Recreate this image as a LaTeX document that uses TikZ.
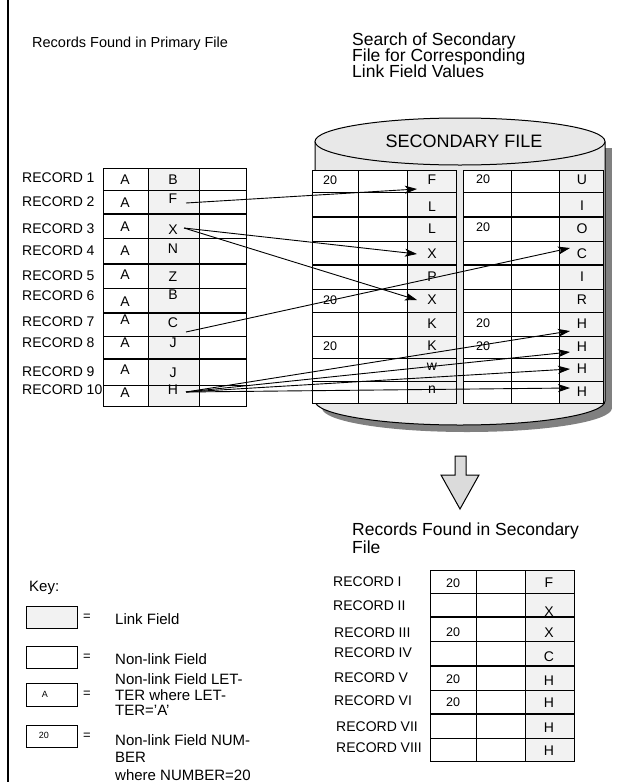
\documentclass[tikz,border=0pt]{standalone}
\usepackage{fontspec}
\setmainfont{Liberation Sans}
\usetikzlibrary{arrows.meta}
\definecolor{linkgray}{gray}{0.95}
\definecolor{cylgray}{gray}{0.91}
\definecolor{shadowgray}{gray}{0.5}
\definecolor{arrowgray}{gray}{0.86}
\begin{document}
\begin{tikzpicture}[x=1pt,y=-1pt,
  gridline/.style={draw=black,line width=1pt},
  thickline/.style={draw=black,line width=2.2pt},
  lbl/.style={anchor=west,inner sep=0pt,font=\fontsize{14}{16}\selectfont},
  txt/.style={inner sep=0pt,font=\fontsize{14}{16}\selectfont},
  num/.style={inner sep=0pt,font=\fontsize{12.5}{14}\selectfont},
  head/.style={anchor=base west,inner sep=0pt},
  keytxt/.style={anchor=base west,inner sep=0pt,font=\fontsize{15}{17}\selectfont},
  conn/.style={line width=0.9pt,-{Stealth[length=12pt,width=8pt,inset=3pt]}},
]
\useasboundingbox (0,0) rectangle (632,782);
% left border
\draw[line width=1.3pt] (8,0) -- (8,782);

% headings
\node[head,font=\fontsize{14.5}{17}\selectfont] (h1) at (32,47) {Records Found in Primary File};
\node[head,font=\fontsize{17.5}{19}\selectfont] (h2a) at (352,45) {Search of Secondary};
\node[head,font=\fontsize{17.5}{19}\selectfont] (h2b) at (352,61) {File for Corresponding};
\node[head,font=\fontsize{17.5}{19}\selectfont] (h2c) at (352,77) {Link Field Values};

% ---------- primary table ----------
\fill[linkgray] (148,168) rectangle (199,406);
\draw[gridline] (103,168) rectangle (246,406);
\foreach \x in {148,199} \draw[gridline] (\x,168) -- (\x,406);
\foreach \y in {190,238,288,336,385} \draw[gridline] (103,\y) -- (246,\y);
\foreach \y in {214,264,313,359} \draw[thickline] (103,\y) -- (246,\y);

\foreach \n/\y in {1/178,2/202,3/229,4/251,5/276,6/296,7/322,8/343,9/372,10/390}
  \node[lbl] (r\n) at (22,\y) {RECORD \n};
\foreach \n/\y in {1/180,2/203,3/227,4/251,5/275,6/302,7/320,8/343,9/370,10/393}
  \node[txt] (pa\n) at (125,\y) {A};
\node[txt] (pB1) at (173,180) {B};
\node[txt] (pF)  at (173,199) {F};
\node[txt] (pX)  at (173,230) {X};
\node[txt] (pN)  at (173,249) {N};
\node[txt] (pZ)  at (173,277) {Z};
\node[txt] (pB6) at (173,295) {B};
\node[txt] (pC)  at (173,323) {C};
\node[txt] (pJ8) at (173,343) {J};
\node[txt] (pJ9) at (173,373) {J};
\node[txt] (pH)  at (173,390) {H};

% ---------- secondary file cylinder ----------
\fill[shadowgray] (322,148) rectangle (612,408);
\fill[shadowgray] (467,408) ellipse [x radius=145,y radius=24];
\fill[cylgray] (315,141.5) rectangle (605,401);
\fill[cylgray] (460,401) ellipse [x radius=145,y radius=24];
\draw[line width=1pt] (315,141.5) -- (315,401) arc[start angle=180,end angle=0,x radius=145,y radius=24] -- (605,141.5);
\draw[line width=1pt,fill=cylgray] (460,141.5) ellipse [x radius=145,y radius=23.5];
\node[inner sep=0pt,font=\fontsize{18}{20}\selectfont] (secfile) at (464,141) {SECONDARY FILE};

% secondary left table
\fill[white] (312,170) rectangle (407,403);
\fill[linkgray] (407,170) rectangle (456,403);
\draw[gridline] (312,170) rectangle (456,403);
\foreach \x in {358,407} \draw[gridline] (\x,170) -- (\x,403);
% secondary right table
\fill[white] (463,170) rectangle (559,403);
\fill[linkgray] (559,170) rectangle (603,403);
\draw[gridline] (463,170) rectangle (603,403);
\foreach \x in {511,559} \draw[gridline] (\x,170) -- (\x,403);
\foreach \y in {192,241,289,312,336,358,381} {
  \draw[gridline] (312,\y) -- (456,\y);
  \draw[gridline] (463,\y) -- (603,\y);
}
\foreach \y in {217,265} {
  \draw[thickline] (312,\y) -- (456,\y);
  \draw[thickline] (463,\y) -- (603,\y);
}

% secondary left contents
\node[num] (sl1) at (330,180) {20};
\node[num] (sl6) at (330,300) {20};
\node[num] (sl8) at (330,346) {20};
\foreach \n/\t/\y in {1/F/180,2/L/207,3/L/229,4/X/254,5/P/277,6/X/300,7/K/324,8/K/346,9/w/367,10/n/390}
  \node[txt] (sk\n) at (432,\y) {\t};
% secondary right contents
\node[num] (sr1) at (483,179) {20};
\node[num] (sr3) at (483,227) {20};
\node[num] (sr7) at (483,323) {20};
\node[num] (sr8) at (483,346) {20};
\foreach \n/\t/\y in {1/U/180,2/I/206,3/O/229,4/C/254,5/I/277,6/R/300,7/H/324,8/H/347,9/H/369,10/H/392}
  \node[txt] (rk\n) at (582,\y) {\t};

% ---------- connectors ----------
\coordinate (fromF) at (186,203);
\coordinate (fromX) at (184,228);
\coordinate (fromC) at (186,332);
\coordinate (fromH) at (186,392);
\coordinate (toF)  at (417,189);
\coordinate (toX1) at (417,254);
\coordinate (toX2) at (417,300);
\coordinate (toC)  at (570,248);
\coordinate (toH1) at (570,331);
\coordinate (toH2) at (570,352);
\coordinate (toH3) at (570,369);
\coordinate (toH4) at (570,388);
\draw[conn] (fromF) -- (toF);
\draw[conn] (fromX) -- (toX1);
\draw[conn] (fromX) -- (toX2);
\draw[conn] (fromC) -- (toC);
\draw[conn] (fromH) -- (toH1);
\draw[conn] (fromH) -- (toH2);
\draw[conn] (fromH) -- (toH3);
\draw[conn] (fromH) -- (toH4);

% ---------- down arrow ----------
\draw[line width=1pt,fill=arrowgray] (455,456) -- (466,456) -- (466,475) -- (479,475)
  -- (460,509) -- (441,475) -- (455,475) -- cycle;

% ---------- records found in secondary ----------
\node[head,font=\fontsize{17.5}{19}\selectfont] (h3a) at (352,535) {Records Found in Secondary};
\node[head,font=\fontsize{17.5}{19}\selectfont] (h3b) at (352,553) {File};

\fill[linkgray] (525,570) rectangle (574,761);
\draw[gridline] (430,570) rectangle (574,761);
\foreach \x in {476,525} \draw[gridline] (\x,570) -- (\x,761);
\foreach \y in {593,641,690,738} \draw[gridline] (430,\y) -- (574,\y);
\foreach \y in {617,666,714} \draw[thickline] (430,\y) -- (574,\y);

\foreach \n/\x/\y in {I/333/582,II/333/606,III/334/633,IV/334/653,V/334/678,VI/334/701,VII/336/727,VIII/336/748}
  \node[lbl] (b\n) at (\x,\y) {RECORD \n};
\node[num] (bn1) at (453,583) {20};
\node[num] (bn3) at (453,632) {20};
\node[num] (bn5) at (453,679) {20};
\node[num] (bn6) at (453,702) {20};
\foreach \n/\t/\y in {1/F/583,2/X/612,3/X/633,4/C/657,5/H/681,6/H/703,7/H/728,8/H/751}
  \node[txt] (bk\n) at (549,\y) {\t};

% ---------- key ----------
\node[keytxt] (key) at (29,591) {Key:};
\draw[gridline,fill=linkgray] (26,606) rectangle (77,628);
\draw[gridline] (26,646) rectangle (77,668);
\draw[gridline] (26,683) rectangle (77,706);
\draw[gridline] (26,725) rectangle (77,747);
\node[inner sep=0pt,font=\fontsize{9}{10}\selectfont] (kA) at (45,694) {A};
\node[inner sep=0pt,font=\fontsize{9}{10}\selectfont] (k20) at (44,735) {20};
\foreach \n/\y in {1/617,2/657,3/694,4/736}
  \node[inner sep=0pt,font=\fontsize{13}{15}\selectfont] (eq\n) at (87,\y) {=};
\node[keytxt] (k1) at (115,624) {Link Field};
\node[keytxt] (k2) at (115,664) {Non-link Field};
\node[keytxt] (k3a) at (115,684) {Non-link Field LET-};
\node[keytxt] (k3b) at (115,700) {TER where LET-};
\node[keytxt] (k3c) at (115,715) {TER='A'};
\node[keytxt] (k4a) at (115,745) {Non-link Field NUM-};
\node[keytxt] (k4b) at (115,762) {BER};
\node[keytxt] (k4c) at (115,780) {where NUMBER=20};
\end{tikzpicture}
\end{document}
